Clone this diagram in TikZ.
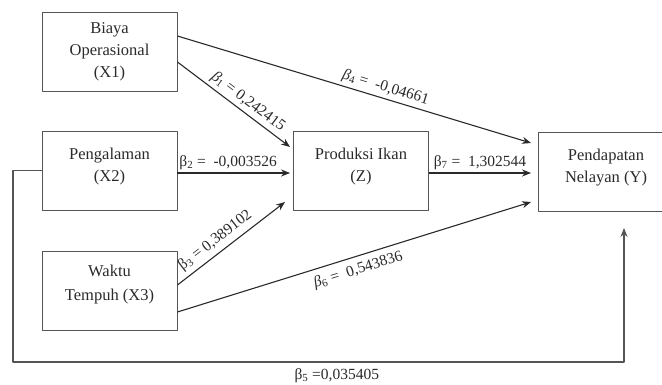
\documentclass[tikz,border=0pt]{standalone}
\usepackage{fontspec}
\setmainfont{Liberation Serif}
\usetikzlibrary{arrows.meta}
\definecolor{ink}{HTML}{2A2A2A}
\definecolor{frame}{HTML}{555555}
\begin{document}
\begin{tikzpicture}[x=1pt,y=-1pt,>={Stealth[length=9pt,width=7pt]},line join=round,
	text=ink,font=\fontsize{16.5}{22}\selectfont,
	varbox/.style={draw=frame,line width=0.9pt,minimum width=135pt,minimum height=79pt,align=center,inner sep=2pt},
	path/.style={->,draw=ink,line width=1.1pt},
	coef/.style={font=\fontsize{15.5}{18}\selectfont,inner sep=3pt}]
	\useasboundingbox (0,0) rectangle (662,385);
	\clip (0,0) rectangle (662,385);
	\node[varbox] (x1) at (109.5,51.5) {Biaya\\Operasional\\(X1)};
	\node[varbox,text depth=12pt] (x2) at (109.5,170.5) {Pengalaman\\(X2)};
	\node[varbox,text depth=16pt] (x3) at (109.5,291) {Waktu\\[2pt]Tempuh (X3)};
	\node[varbox,text depth=12pt] (z) at (361,170.5) {Produksi Ikan\\(Z)};
	\node[varbox,text depth=12pt] (y) at (606,171.5) {Pendapatan\\Nelayan\ (Y)};
	\coordinate (loopL) at (13,362);
	\coordinate (loopR) at (624,362);
	\draw[path] ([yshift=-10.5pt]x1.east) -- node[coef,sloped,above,pos=0.57]{\textit{β}\textsubscript{1} = 0,242415} ([xshift=-3pt,yshift=23.5pt]z.west);
	\draw[path] ([yshift=15.5pt]x1.east) -- node[coef,sloped,above,pos=0.58]{\textit{β}\textsubscript{4} =\ \ -0,04661} ([xshift=-7pt,yshift=28.5pt]y.west);
	\draw[path] ([yshift=-2.5pt]x2.east) -- node[coef,above,pos=0.45]{β\textsubscript{2} =\ \ -0,003526} ([xshift=-3pt,yshift=-2.5pt]z.west);
	\draw[path] ([yshift=-2.5pt]z.east) -- node[coef,above,pos=0.5]{β\textsubscript{7} =\ \ 1,302544} ([xshift=-7pt,yshift=-1.5pt]y.west);
	\draw[path] ([yshift=6pt]x3.east) -- node[coef,sloped,above,pos=0.42,inner sep=4.5pt]{β\textsubscript{3} = 0,389102} ([xshift=-8pt,yshift=-31.5pt]z.west);
	\draw[path] ([yshift=-21pt]x3.east) -- node[coef,sloped,below,pos=0.5,inner sep=6pt]{\textit{β}\textsubscript{6} =\ \ 0,543836} ([xshift=-7pt,yshift=-30.5pt]y.west);
	\draw[path,draw=frame] (x2.west) -| (loopL) -- node[coef,below,pos=0.53,inner sep=6pt]{β\textsubscript{5} =0,035405} (loopR) -- ([xshift=18pt,yshift=-16.5pt]y.south);
\end{tikzpicture}
\end{document}
